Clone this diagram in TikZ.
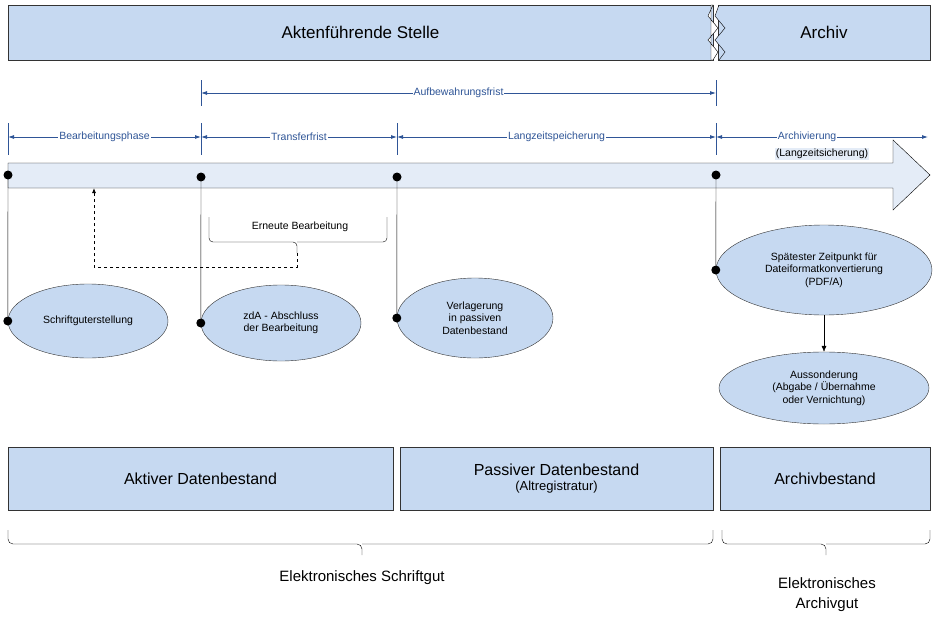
\documentclass[tikz,border=0pt]{standalone}
\usepackage{fontspec}
\setmainfont{Liberation Sans}
\usetikzlibrary{arrows.meta,shapes.geometric}
\definecolor{boxblue}{HTML}{C6D9F1}
\definecolor{lightblue}{HTML}{E4ECF7}
\definecolor{lineblue}{HTML}{2F5597}
\begin{document}
\begin{tikzpicture}[x=1pt,y=-1pt,
	box/.style={rectangle,fill=boxblue,draw=black!80,thick,inner sep=0pt},
	phase/.style={ellipse,fill=boxblue,draw=black!80,align=center,font=\fontsize{10.5}{12.5}\selectfont,inner sep=0pt},
	span/.style={{Latex[length=6pt,width=4pt]}-{Latex[length=6pt,width=4pt]},lineblue,thick},
	tick/.style={lineblue,thick},
	dot/.style={circle,fill=black,inner sep=0pt,minimum size=9pt},
	lab/.style={fill=white,inner sep=1pt,font=\fontsize{10.5}{12}\selectfont,align=center}]
	\useasboundingbox (0,0) rectangle (938,624);
	% top bars
	\node[box,minimum width=705pt,minimum height=55pt,font=\fontsize{17}{20}\selectfont] (aktenf) at (360.5,32.5) {Aktenführende Stelle};
	\node[box,minimum width=212pt,minimum height=55pt,font=\fontsize{17}{20}\selectfont] (archiv) at (824,32.5) {Archiv};
	\draw[fill=white] (711,5) -- (713,5) -- (708,16) -- (718,28) -- (708,40) -- (718,52) -- (713,60) -- (711,60) -- cycle;
	\draw[fill=boxblue] (719,5) -- (715,16) -- (725,28) -- (715,40) -- (725,52) -- (719,60);
	% ticks
	\foreach \x/\a/\b in {201/80/106,716/80/106,8/123/155,201/123/155,397/123/155,716/123/155}
		\draw[tick] (\x,\a) -- (\x,\b);
	\coordinate (fA) at (201,93); \coordinate (fB) at (716,93);
	\path[span] (fA) edge node[lab] {Aufbewahrungsfrist} (fB);
	\coordinate (p0) at (8,137); \coordinate (p1) at (201,137); \coordinate (p2) at (397,137); \coordinate (p3) at (716,137); \coordinate (p4) at (928,137);
	\path[span] (p0) edge node[lab] {Bearbeitungsphase} (p1);
	\path[span] (p1) edge node[lab] {Transferfrist} (p2);
	\path[span] (p2) edge node[lab] {Langzeitspeicherung} (p3);
	% timeline arrow
	\draw[fill=lightblue] (8,163) -- (893,163) -- (893,140) -- (930,175) -- (893,210) -- (893,188) -- (8,188) -- cycle;
	\path[span] (p3) edge node[lab,pos=.43] {Archivierung} (p4);
	\node[lab,fill=lightblue] (langz) at (822,154) {(Langzeitsicherung)};
	% events
	\node[phase,minimum width=160pt,minimum height=74pt] (erst) at (88,321) {Schriftguterstellung};
	\node[phase,minimum width=160pt,minimum height=76pt] (zda) at (281,323) {zdA - Abschluss\\der Bearbeitung};
	\node[phase,minimum width=156pt,minimum height=80pt] (verl) at (475,318) {Verlagerung\\in passiven\\Datenbestand};
	\node[phase,minimum width=216pt,minimum height=90pt] (pdfa) at (824,270) {Spätester Zeitpunkt für\\Dateiformatkonvertierung\\(PDF/A)};
	\node[phase,minimum width=210pt,minimum height=72pt] (auss) at (824,388) {Aussonderung\\(Abgabe / Übernahme\\oder Vernichtung)};
	\foreach \n/\x/\y/\e in {d0/8/175/erst, d1/201/177/zda, d2/397/177/verl, d3/716/175/pdfa} {
		\node[dot] (\n) at (\x,\y) {};
		\node[dot] (\n e) at (\e.west) {};
		\draw (\n) -- (\n e);
	}
	\draw[-{Latex[length=6pt,width=5pt]}] (pdfa) -- (auss);
	% Erneute Bearbeitung
	\node[lab] (erneut) at (300,227) {Erneute Bearbeitung};
	\draw[rounded corners=4pt] (209,217) -- (209,242) -- (297,242) -- (297,253);
	\draw[rounded corners=4pt] (387,217) -- (387,242) -- (297,242);
	\coordinate (back) at (94,188);
	\draw[thick,dashed,-{Latex[length=5pt,width=4pt]}] (297,253) -- (297,267) -- (94,267) -- (back);
	% stock boxes
	\node[box,minimum width=385pt,minimum height=63pt,font=\fontsize{16}{19}\selectfont] (aktiv) at (200.5,478.5) {Aktiver Datenbestand};
	\node[box,minimum width=313pt,minimum height=63pt,align=center] (passiv) at (556.5,478.5) {{\fontsize{16}{19}\selectfont Passiver Datenbestand}\\[3pt]{\fontsize{13}{15}\selectfont(Altregistratur)}};
	\node[box,minimum width=210pt,minimum height=63pt,font=\fontsize{16}{19}\selectfont] (archbest) at (825,478.5) {Archivbestand};
	% braces
	\draw[rounded corners=5pt] (8,530) -- (8,544) -- (362,544) -- (362,555);
	\draw[rounded corners=5pt] (713,530) -- (713,544) -- (362,544);
	\draw[rounded corners=5pt] (722,530) -- (722,544) -- (826,544) -- (826,555);
	\draw[rounded corners=5pt] (930,530) -- (930,544) -- (826,544);
	\node[font=\fontsize{15}{18}\selectfont] (schriftgut) at (362,578) {Elektronisches Schriftgut};
	\node[font=\fontsize{15}{20}\selectfont,align=center] (archivgut) at (827,595) {Elektronisches\\Archivgut};
\end{tikzpicture}
\end{document}
